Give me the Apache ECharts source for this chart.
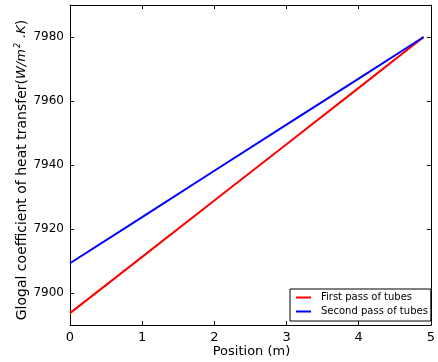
<!DOCTYPE html>
<html>
<head>
<meta charset="utf-8">
<script src="https://cdn.jsdelivr.net/npm/echarts@6/dist/echarts.min.js"></script>
<style>
  html, body { margin: 0; padding: 0; background: #fff; }
  #chart { width: 438px; height: 362px; }
</style>
</head>
<body>
<div id="chart"></div>
<script>
// Position along the exchanger (m)
var positions = [0, 1, 2, 3, 4, 4.9];
// Global heat transfer coefficient, W/(m^2.K)
var firstPass  = [7893.7, 7911.3, 7928.9, 7946.5, 7964.1, 7980.0];
var secondPass = [7909.3, 7923.7, 7938.2, 7952.6, 7967.0, 7980.0];
var seriesNames = ['First pass of tubes', 'Second pass of tubes'];
var xTicks = [0, 1, 2, 3, 4, 5];
var yTicks = [7900, 7920, 7940, 7960, 7980];

function pairs(xs, ys) {
  return xs.map(function (x, i) { return [x, ys[i]]; });
}

var font = 'DejaVu Sans';
var frame = { show: true, onZero: false, lineStyle: { color: '#000', width: 1 } };
var plain = function (v) { return String(v); };

function xAxisDef(pos, labels) {
  return {
    type: 'value', position: pos, min: 0, max: 5,
    axisLine: frame,
    axisTick: { show: true, inside: true, length: 4, customValues: xTicks, lineStyle: { color: '#000' } },
    axisLabel: { show: labels, customValues: xTicks, formatter: plain, margin: 6, color: '#000', fontFamily: font, fontSize: 13 },
    splitLine: { show: false }
  };
}
function yAxisDef(pos, labels) {
  return {
    type: 'value', position: pos, min: 7890, max: 7990,
    axisLine: frame,
    axisTick: { show: true, inside: true, length: 4, customValues: yTicks, lineStyle: { color: '#000' } },
    axisLabel: { show: labels, customValues: yTicks, formatter: plain, margin: 6, color: '#000', fontFamily: font, fontSize: 12 },
    splitLine: { show: false }
  };
}

var chart = echarts.init(document.getElementById('chart'), null, { renderer: 'canvas' });
chart.setOption({
  animation: false,
  backgroundColor: '#fff',
  grid: { left: 70, right: 5, top: 5, bottom: 37, containLabel: false },
  xAxis: [xAxisDef('bottom', true), xAxisDef('top', false)],
  yAxis: [yAxisDef('left', true), yAxisDef('right', false)],
  legend: {
    orient: 'vertical',
    left: 290, top: 289,
    padding: [2, 3, 3, 6],
    itemGap: 1,
    itemWidth: 15, itemHeight: 2,
    icon: 'rect',
    borderColor: '#000', borderWidth: 1, borderRadius: 0,
    backgroundColor: '#fff',
    textStyle: { fontFamily: font, fontSize: 10, color: '#000', lineHeight: 13, padding: [0, 0, 0, 5] },
    data: seriesNames
  },
  series: [
    {
      name: seriesNames[0], type: 'line', showSymbol: false, symbol: 'none',
      data: pairs(positions, firstPass),
      lineStyle: { color: '#ff0000', width: 2 }, itemStyle: { color: '#ff0000' }
    },
    {
      name: seriesNames[1], type: 'line', showSymbol: false, symbol: 'none',
      data: pairs(positions, secondPass),
      lineStyle: { color: '#0000ff', width: 2 }, itemStyle: { color: '#0000ff' }
    }
  ],
  graphic: [
    {
      type: 'text', x: 251.5, y: 352,
      style: { text: 'Position (m)', fontFamily: font, fontSize: 13, fill: '#000', align: 'center', verticalAlign: 'middle' }
    },
    {
      type: 'text', x: 22, y: 170, rotation: Math.PI / 2,
      style: {
        text: 'Glogal coefficient of heat transfer({it|W/m}{sup|2}{it| .K})',
        fontFamily: font, fontSize: 14, fill: '#000', align: 'center', verticalAlign: 'middle',
        rich: {
          it: { fontFamily: font, fontStyle: 'italic', fontSize: 13, fill: '#000' },
          sup: { fontFamily: font, fontStyle: 'italic', fontSize: 8, fill: '#000', padding: [0, 1, 8, 1] }
        }
      }
    }
  ]
});
</script>
</body>
</html>
